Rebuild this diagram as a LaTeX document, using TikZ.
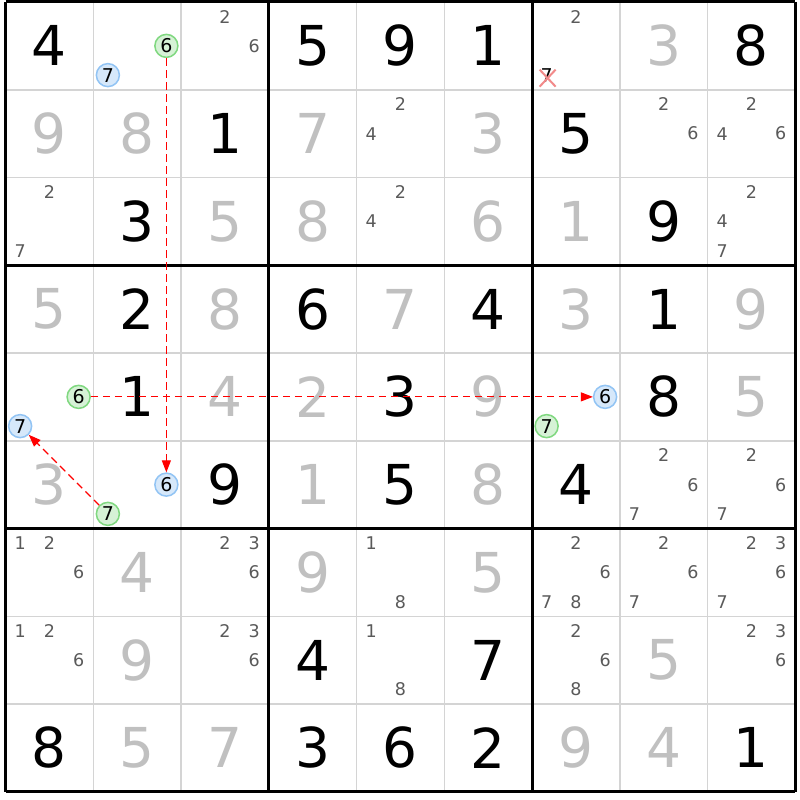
\documentclass[tikz,border=0pt]{standalone}
\usepackage{fontspec}
\setmainfont{DejaVu Sans}
\usetikzlibrary{arrows.meta,shapes.misc,calc}
\definecolor{givencol}{HTML}{000000}
\definecolor{solvedcol}{HTML}{C0C0C0}
\definecolor{candcol}{HTML}{5A5A5A}
\definecolor{thincol}{HTML}{D4D4D4}
\definecolor{gfill}{HTML}{D6F2D6}
\definecolor{gline}{HTML}{80D880}
\definecolor{bfill}{HTML}{D6E8FA}
\definecolor{bline}{HTML}{92C4F4}
\definecolor{xred}{HTML}{F28A8A}
\definecolor{arrred}{HTML}{FF0000}
\tikzset{
  givenbox/.style={font=\fontsize{55}{55}\selectfont, text=givencol, inner sep=0pt},
  solvedbox/.style={font=\fontsize{55}{55}\selectfont, text=solvedcol, inner sep=0pt},
  candbox/.style={font=\fontsize{17.5}{17.5}\selectfont, text=candcol, inner sep=0pt},
  greencirc/.style={circle, draw=gline, fill=gfill, line width=1.5pt, minimum size=23pt, inner sep=0pt, font=\fontsize{19}{19}\selectfont, text=black},
  bluecirc/.style={circle, draw=bline, fill=bfill, line width=1.5pt, minimum size=23pt, inner sep=0pt, font=\fontsize{19}{19}\selectfont, text=black},
  linkarrow/.style={draw=arrred, line width=1.1pt, dash pattern=on 7.5pt off 4.5pt, -{Triangle[length=12pt,width=9pt,fill=arrred]}},
  crossbox/.style={cross out, draw=xred, line width=2pt, minimum width=14pt, minimum height=15pt, inner sep=0pt},
  thinline/.style={draw=thincol, line width=1.5pt},
  thickline/.style={draw=black, line width=3pt}
}
\begin{document}
\begin{tikzpicture}[x=87.75pt, y=-87.75pt, shift={(5.5pt,-2pt)}]
\useasboundingbox (-5.5pt,2pt) rectangle (794.5pt,-798pt);
\fill[white] (-5.5pt,2pt) rectangle (794.5pt,-798pt);
% thin lines
\foreach \i in {1,2,4,5,7,8} {
  \draw[thinline] (\i,0) -- (\i,9);
  \draw[thinline] (0,\i) -- (9,\i);
}
% thick lines
\foreach \i in {0,3,6,9} {
  \draw[thickline] (\i,0) -- (\i,9);
  \draw[thickline] (0,\i) -- (9,\i);
}
% given digits
\foreach \c/\r/\d in {0/0/4,3/0/5,4/0/9,5/0/1,8/0/8,
  2/1/1,6/1/5, 1/2/3,7/2/9, 1/3/2,3/3/6,5/3/4,7/3/1,
  1/4/1,4/4/3,7/4/8, 2/5/9,4/5/5,6/5/4, 3/7/4,5/7/7,
  0/8/8,3/8/3,4/8/6,5/8/2,8/8/1}
  \node[givenbox] (g\c\r) at (\c+0.5,\r+0.5) {\d};
% solved digits
\foreach \c/\r/\d in {7/0/3, 0/1/9,1/1/8,3/1/7,5/1/3,
  2/2/5,3/2/8,5/2/6,6/2/1, 0/3/5,2/3/8,4/3/7,6/3/3,8/3/9,
  2/4/4,3/4/2,5/4/9,8/4/5, 0/5/3,3/5/1,5/5/8,
  1/6/4,3/6/9,5/6/5, 1/7/9,7/7/5, 1/8/5,2/8/7,6/8/9,7/8/4}
  \node[solvedbox] (s\c\r) at (\c+0.5,\r+0.5) {\d};
% candidates
\foreach \c/\r/\d in {2/0/2,2/0/6, 6/0/2,
  4/1/2,4/1/4, 7/1/2,7/1/6, 8/1/2,8/1/4,8/1/6,
  0/2/2,0/2/7, 4/2/2,4/2/4, 8/2/2,8/2/4,8/2/7,
  7/5/2,7/5/6,7/5/7, 8/5/2,8/5/6,8/5/7,
  0/6/1,0/6/2,0/6/6, 2/6/2,2/6/3,2/6/6, 4/6/1,4/6/8,
  6/6/2,6/6/6,6/6/7,6/6/8, 7/6/2,7/6/6,7/6/7, 8/6/2,8/6/3,8/6/6,8/6/7,
  0/7/1,0/7/2,0/7/6, 2/7/2,2/7/3,2/7/6, 4/7/1,4/7/8,
  6/7/2,6/7/6,6/7/8, 8/7/2,8/7/3,8/7/6} {
  \pgfmathsetmacro\px{\c+(2*mod(\d-1,3)+1)/6}
  \pgfmathsetmacro\py{\r+(2*floor((\d-1)/3)+1)/6}
  \node[candbox] (k\c\r\d) at (\px,\py) {\d};
}
% crossed-out candidate 7 in r1c7
\node[font=\fontsize{19}{19}\selectfont, text=black, inner sep=0pt] (x607) at (6+1/6,5/6) {7};
\node[crossbox] (xmark) at ($(x607.center)+(1pt,-3pt)$) {};
% highlighted candidates
\node[greencirc] (gA) at (1+5/6,0.5) {6};
\node[bluecirc]  (bA) at (1+1/6,5/6) {7};
\node[greencirc] (gB) at (5/6,4.5) {6};
\node[bluecirc]  (bB) at (1/6,4+5/6) {7};
\node[bluecirc]  (bC) at (6+5/6,4.5) {6};
\node[greencirc] (gC) at (6+1/6,4+5/6) {7};
\node[bluecirc]  (bD) at (1+5/6,5.5) {6};
\node[greencirc] (gD) at (1+1/6,5+5/6) {7};
% links
\draw[linkarrow] (gA) -- (bD);
\draw[linkarrow] (gB) -- (bC);
\draw[linkarrow] (gD) -- (bB);
\end{tikzpicture}
\end{document}
